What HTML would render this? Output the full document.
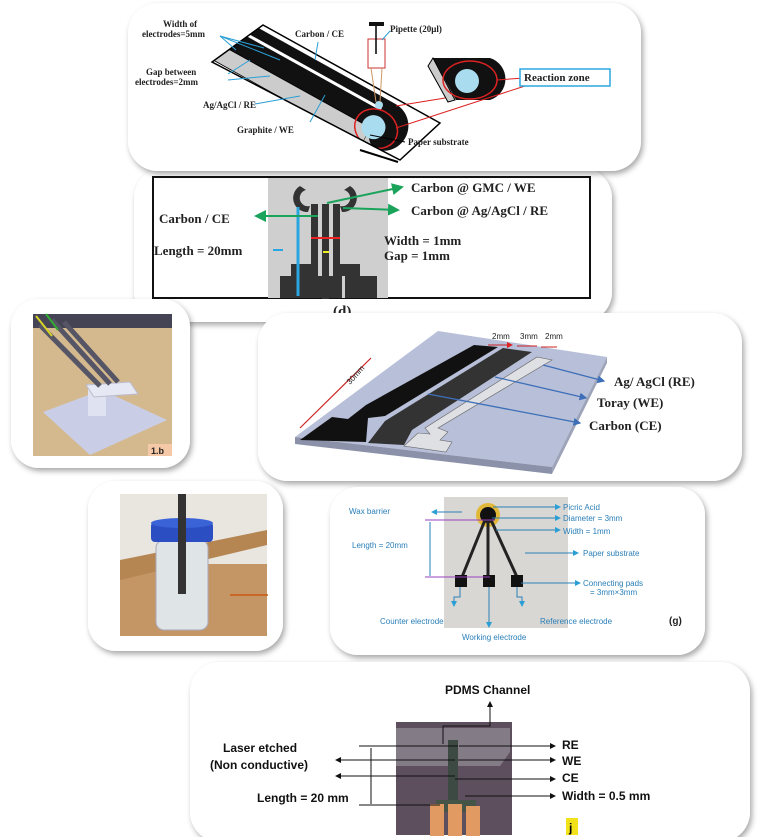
<!DOCTYPE html>
<html><head><meta charset="utf-8"><style>
html,body{margin:0;padding:0;background:#fff;}
svg{display:block}
text{font-family:"Liberation Serif",serif;}
text.s,.s text{font-family:"Liberation Sans",sans-serif;}
</style></head><body>
<svg width="759" height="837" viewBox="0 0 759 837" xmlns="http://www.w3.org/2000/svg">
<defs>
<filter id="sh" x="-10%" y="-10%" width="120%" height="130%"><feDropShadow dx="2" dy="3" stdDeviation="3" flood-color="#000" flood-opacity="0.35"/></filter>
<clipPath id="pc"><polygon points="263,25 440,123 400,160 212,62"/></clipPath>
<marker id="ab" markerWidth="6" markerHeight="6" refX="5" refY="3" orient="auto"><path d="M0,0L6,3L0,6z" fill="#2a9fd6"/></marker>
<marker id="ag" markerWidth="6" markerHeight="6" refX="5" refY="3" orient="auto"><path d="M0,0L6,3L0,6z" fill="#1aa35a"/></marker>
<marker id="abl" markerWidth="6" markerHeight="6" refX="5" refY="3" orient="auto"><path d="M0,0L6,3L0,6z" fill="#3d6fb8"/></marker>
<marker id="ak" markerWidth="6" markerHeight="6" refX="5" refY="3" orient="auto"><path d="M0,0L6,3L0,6z" fill="#111"/></marker>
<marker id="ar" markerWidth="6" markerHeight="6" refX="5" refY="3" orient="auto"><path d="M0,0L6,3L0,6z" fill="#d22"/></marker>
</defs>

<!-- Panel 2 (d) behind panel 1 -->
<rect x="134" y="168" width="478" height="154" rx="30" fill="#fff" filter="url(#sh)"/>
<rect x="153" y="177" width="437" height="121" fill="#fff" stroke="#111" stroke-width="2"/>
<rect x="268" y="178" width="120" height="120" fill="#cfcfcf"/>
<g fill="#333">
<path d="M300,186 a14,14 0 0 0 8,26 l2,-6 a8,8 0 0 1 -4,-16z"/>
<path d="M350,186 a14,14 0 0 1 -8,26 l-2,-6 a8,8 0 0 0 4,-16z"/>
<rect x="311" y="204" width="7" height="70"/><rect x="322" y="204" width="7" height="95"/><rect x="333" y="204" width="7" height="70"/>
<rect x="291" y="264" width="27" height="12"/><rect x="333" y="264" width="27" height="12"/>
<rect x="280" y="276" width="34" height="22"/><rect x="312" y="276" width="30" height="22"/><rect x="345" y="276" width="32" height="22"/>
</g>
<line x1="298" y1="207" x2="298" y2="296" stroke="#2aa7e0" stroke-width="3"/>
<line x1="311" y1="238" x2="340" y2="238" stroke="#e22" stroke-width="2"/>
<line x1="323" y1="252" x2="329" y2="252" stroke="#ee2" stroke-width="2"/>
<line x1="327" y1="203" x2="402" y2="187" stroke="#1aa35a" stroke-width="2" marker-end="url(#ag)"/>
<line x1="343" y1="208" x2="398" y2="210" stroke="#1aa35a" stroke-width="2" marker-end="url(#ag)"/>
<line x1="318" y1="216" x2="256" y2="216" stroke="#1aa35a" stroke-width="2" marker-end="url(#ag)"/>
<line x1="273" y1="250" x2="283" y2="250" stroke="#2aa7e0" stroke-width="2"/>
<g font-weight="bold" font-size="13" fill="#222">
<text x="411" y="192">Carbon @ GMC / WE</text>
<text x="411" y="215">Carbon @ Ag/AgCl / RE</text>
<text x="159" y="223">Carbon / CE</text>
<text x="154" y="255">Length = 20mm</text>
<text x="384" y="245">Width = 1mm</text>
<text x="384" y="260">Gap = 1mm</text>
<text x="333" y="316" font-size="15">(d)</text>
</g>

<!-- Panel 1 -->
<rect x="128" y="3" width="513" height="168" rx="30" fill="#fff" filter="url(#sh)"/>
<g clip-path="url(#pc)">
<g transform="translate(258,22) rotate(29)">
<path d="M-60,5 L160,5 A25,25 0 0 1 160,55 L150,55 L150,38 L-60,38 Z" fill="#111"/>
<rect x="-60" y="15" width="210" height="3" fill="#fff"/>
<path d="M-60,38 L150,38 L150,55 L-60,55 Z" fill="#ccc" stroke="#000" stroke-width="0.8"/>
<path d="M150,38 A18,18 0 0 0 165,55 L150,55 Z" fill="#ccc"/>
<circle cx="152" cy="36" r="12" fill="#a9dcef"/>
<ellipse cx="155" cy="36" rx="22" ry="19" fill="none" stroke="#d22" stroke-width="1.5"/>
</g>
</g>
<polygon points="263,25 440,123 400,160 212,62" fill="none" stroke="#000" stroke-width="1.5"/>
<line x1="360" y1="150" x2="398" y2="162" stroke="#000" stroke-width="2"/>
<circle cx="379" cy="105" r="4" fill="#a9dcef"/>
<rect x="368" y="39" width="17" height="29" fill="#fff" stroke="#c33"/>
<line x1="376" y1="25" x2="376" y2="54" stroke="#000" stroke-width="1.5"/>
<rect x="369" y="22" width="15" height="4" fill="#111"/>
<line x1="371" y1="68" x2="376" y2="102" stroke="#c96"/><line x1="382" y1="68" x2="380" y2="102" stroke="#c96"/>
<path d="M433,58 L490,58 A22,22 0 0 1 490,100 L456,100 Z" fill="#111"/>
<polygon points="433,58 455,100 448,102 428,66" fill="#ccc" stroke="#000"/>
<ellipse cx="470" cy="80" rx="27" ry="19" fill="none" stroke="#d22" stroke-width="1.5"/>
<circle cx="467" cy="81" r="12" fill="#a9dcef"/>
<line x1="396" y1="106" x2="445" y2="98" stroke="#d22"/><line x1="396" y1="128" x2="525" y2="86" stroke="#d22"/>
<line x1="497" y1="80" x2="524" y2="78" stroke="#d22"/>
<rect x="520" y="69" width="90" height="17" fill="#fff" stroke="#2aa7e0" stroke-width="1.5"/>
<g font-weight="bold" font-size="9" fill="#222">
<text x="163" y="27">Width of</text>
<text x="142" y="37">electrodes=5mm</text>
<text x="146" y="75">Gap between</text>
<text x="135" y="85">electrodes=2mm</text>
<text x="203" y="108">Ag/AgCl / RE</text>
<text x="237" y="133">Graphite / WE</text>
<text x="295" y="37">Carbon / CE</text>
<text x="390" y="32">Pipette (20μl)</text>
<text x="408" y="145">Paper substrate</text>
<text x="524" y="81" font-size="11">Reaction zone</text>
</g>
<g stroke="#2a9fd6" stroke-width="1">
<line x1="220" y1="36" x2="236" y2="50"/><line x1="220" y1="36" x2="264" y2="48"/><line x1="220" y1="36" x2="280" y2="60"/>
<line x1="228" y1="74" x2="250" y2="60"/><line x1="228" y1="80" x2="270" y2="76"/>
<line x1="255" y1="104" x2="300" y2="96"/><line x1="310" y1="122" x2="325" y2="95"/>
<line x1="318" y1="42" x2="315" y2="60"/><line x1="390" y1="31" x2="382" y2="40"/>
</g>
<line x1="405" y1="142" x2="370" y2="135" stroke="#000"/>

<!-- Panel 3 1.b -->
<rect x="11" y="299" width="179" height="169" rx="28" fill="#fff" filter="url(#sh)"/>
<rect x="33" y="314" width="139" height="142" fill="#d4b98f"/>
<rect x="33" y="314" width="139" height="14" fill="#445"/>
<polygon points="43,412 102,390 167,420 90,455" fill="#c9cee6"/>
<rect x="88" y="384" width="18" height="32" fill="#dfe2f0"/>
<polygon points="86,385 130,382 138,394 94,397" fill="#e6e8f4" stroke="#bbc"/>
<g stroke="#556" stroke-width="5"><line x1="40" y1="325" x2="100" y2="386"/><line x1="52" y1="320" x2="110" y2="384"/><line x1="64" y1="322" x2="118" y2="382"/></g>
<line x1="36" y1="316" x2="52" y2="336" stroke="#d6d226" stroke-width="2"/>
<line x1="46" y1="314" x2="58" y2="330" stroke="#3a3" stroke-width="2"/>
<rect x="148" y="444" width="24" height="12" fill="#f5c8a8"/>
<text x="151" y="454" class="s" font-size="9" font-weight="bold" fill="#222">1.b</text>

<!-- Panel 4 -->
<rect x="258" y="313" width="484" height="168" rx="30" fill="#fff" filter="url(#sh)"/>
<polygon points="295,437 438,331 607,357 552,467" fill="#b8bfd8"/>
<polygon points="295,437 552,467 552,474 295,444" fill="#8b91a8"/>
<polygon points="552,467 607,357 607,363 552,474" fill="#9da3b8"/>
<polygon points="300,440 332,417 348,419 366,405 474,345 498,347 385,416 368,418 366,442" fill="#111"/>
<polygon points="368,443 385,421 503,348 532,352 412,430 404,445" fill="#333"/>
<polygon points="404,446 418,433 430,434 425,428 537,357 552,360 438,428 448,432 440,440 452,442 446,452" fill="#dfe0e4" stroke="#666" stroke-width="0.6"/>
<line x1="300" y1="428" x2="371" y2="358" stroke="#c22" stroke-width="1.2"/>
<line x1="488" y1="345" x2="512" y2="345" stroke="#c22" marker-end="url(#ar)"/>
<line x1="517" y1="346" x2="537" y2="346" stroke="#c22"/>
<line x1="541" y1="347" x2="557" y2="347" stroke="#c22"/>
<text x="492" y="339" font-size="8" class="s" fill="#222">2mm</text>
<text x="520" y="339" font-size="8" class="s" fill="#222">3mm</text>
<text x="545" y="339" font-size="8" class="s" fill="#222">2mm</text>
<text x="350" y="385" font-size="8" class="s" fill="#222" transform="rotate(-48 350 385)">30mm</text>
<g stroke="#3d6fb8" stroke-width="1.3">
<line x1="543" y1="365" x2="604" y2="381" marker-end="url(#abl)"/>
<line x1="495" y1="377" x2="586" y2="398" marker-end="url(#abl)"/>
<line x1="428" y1="394" x2="580" y2="423" marker-end="url(#abl)"/>
</g>
<g font-weight="bold" font-size="13" fill="#222">
<text x="614" y="386">Ag/ AgCl (RE)</text>
<text x="597" y="407">Toray (WE)</text>
<text x="589" y="430">Carbon (CE)</text>
</g>

<!-- Panel 5 vial -->
<rect x="88" y="481" width="195" height="170" rx="28" fill="#fff" filter="url(#sh)"/>
<rect x="120" y="494" width="147" height="142" fill="#c49565"/>
<rect x="120" y="494" width="147" height="70" fill="#e9e6e0"/>
<polygon points="120,560 267,530 267,545 120,580" fill="#b58552"/>
<rect x="156" y="540" width="52" height="90" rx="8" fill="#dfe4e6" stroke="#aab"/>
<rect x="151" y="522" width="62" height="20" rx="4" fill="#2b4fc2"/>
<ellipse cx="182" cy="523" rx="31" ry="5" fill="#3b63d8"/>
<rect x="178" y="494" width="8" height="100" fill="#333"/>
<line x1="268" y1="595" x2="230" y2="595" stroke="#c85a12" stroke-width="1.5"/>

<!-- Panel 6 (g) -->
<rect x="330" y="487" width="375" height="168" rx="28" fill="#fff" filter="url(#sh)"/>
<rect x="444" y="497" width="124" height="131" fill="#d9d7d3"/>
<circle cx="488" cy="515" r="12" fill="#e2b838"/>
<circle cx="488" cy="515" r="8" fill="#111"/>
<g stroke="#222" stroke-width="3"><line x1="485" y1="520" x2="462" y2="577"/><line x1="488" y1="520" x2="488" y2="577"/><line x1="491" y1="520" x2="517" y2="577"/></g>
<rect x="455" y="575" width="12" height="12" fill="#111"/><rect x="483" y="575" width="12" height="12" fill="#111"/><rect x="511" y="575" width="12" height="12" fill="#111"/>
<g stroke="#9a3fbf" stroke-width="1"><line x1="425" y1="520" x2="495" y2="520"/><line x1="425" y1="577" x2="490" y2="577"/></g>
<line x1="430" y1="522" x2="430" y2="576" stroke="#2a7fb8"/>
<g stroke="#2a7fb8" stroke-width="1">
<line x1="493" y1="507" x2="560" y2="507" marker-end="url(#ab)"/>
<line x1="492" y1="518" x2="560" y2="518" marker-end="url(#ab)"/>
<line x1="496" y1="530" x2="560" y2="530" marker-end="url(#ab)"/>
<line x1="525" y1="553" x2="578" y2="553" marker-end="url(#ab)"/>
<line x1="521" y1="583" x2="580" y2="583" marker-end="url(#ab)"/>
<line x1="462" y1="512" x2="432" y2="512" marker-end="url(#ab)"/>
<polyline points="460,587 460,597 454,597 454,606" fill="none" marker-end="url(#ab)"/>
<line x1="489" y1="587" x2="489" y2="627" marker-end="url(#ab)"/>
<polyline points="517,587 517,597 522,597 522,606" fill="none" marker-end="url(#ab)"/>
</g>
<g class="s" font-size="8" fill="#2a7fb8">
<text x="563" y="510">Picric Acid</text>
<text x="563" y="521">Diameter = 3mm</text>
<text x="563" y="534">Width = 1mm</text>
<text x="583" y="556">Paper substrate</text>
<text x="583" y="586">Connecting pads</text>
<text x="590" y="595">= 3mm×3mm</text>
<text x="349" y="514">Wax barrier</text>
<text x="352" y="548">Length = 20mm</text>
<text x="380" y="624">Counter electrode</text>
<text x="540" y="624">Reference electrode</text>
<text x="462" y="640">Working electrode</text>
</g>
<text x="669" y="624" class="s" font-size="10" font-weight="bold" fill="#222">(g)</text>

<!-- Panel 7 (j) -->
<rect x="190" y="662" width="560" height="180" rx="30" fill="#fff" filter="url(#sh)"/>
<rect x="396" y="722" width="116" height="113" fill="#5e4f5e"/>
<polygon points="396,728 510,728 510,752 500,766 396,766" fill="#8c8690" opacity="0.8"/>
<rect x="448" y="740" width="10" height="60" fill="#3d4a44"/>
<rect x="436" y="800" width="40" height="12" fill="#445548"/>
<rect x="430" y="804" width="14" height="32" fill="#e09a62"/><rect x="448" y="804" width="14" height="32" fill="#e09a62"/><rect x="466" y="806" width="14" height="30" fill="#e09a62"/>
<g stroke="#111" stroke-width="1">
<polyline points="443,744 443,726 490,726 490,702" fill="none" marker-end="url(#ak)"/>
<line x1="359" y1="746" x2="458" y2="746"/>
<line x1="459" y1="746" x2="555" y2="746" marker-end="url(#ak)"/>
<line x1="455" y1="760" x2="336" y2="760" marker-end="url(#ak)"/>
<line x1="458" y1="760" x2="555" y2="760" marker-end="url(#ak)"/>
<line x1="455" y1="776" x2="336" y2="776" marker-end="url(#ak)"/>
<line x1="455" y1="779" x2="555" y2="779" marker-end="url(#ak)"/>
<line x1="465" y1="796" x2="555" y2="796" marker-end="url(#ak)"/>
<line x1="359" y1="805" x2="440" y2="805"/>
<line x1="371" y1="748" x2="371" y2="804"/>
</g>
<g class="s" font-weight="bold" font-size="12" fill="#111">
<text x="445" y="694">PDMS Channel</text>
<text x="223" y="752">Laser etched</text>
<text x="210" y="769">(Non conductive)</text>
<text x="257" y="802">Length = 20 mm</text>
<text x="562" y="749">RE</text>
<text x="562" y="765">WE</text>
<text x="562" y="782">CE</text>
<text x="562" y="800">Width = 0.5 mm</text>
</g>
<rect x="566" y="818" width="12" height="17" fill="#f2e21a"/>
<text x="569" y="832" class="s" font-weight="bold" font-size="12">j</text>
</svg>
</body></html>
